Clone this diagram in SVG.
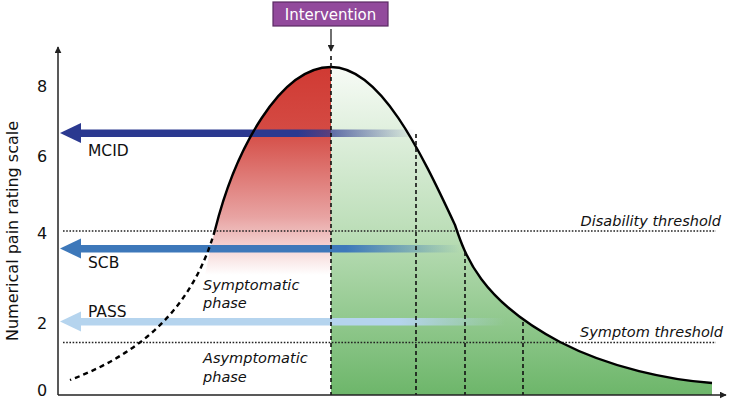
<svg xmlns="http://www.w3.org/2000/svg" width="729" height="404" viewBox="0 0 729 404">
<style>
text{font-family:"DejaVu Sans","Liberation Sans",sans-serif;fill:#111}
.num{font-size:16px;text-anchor:middle}
.lab{font-size:15.5px}
.it{font-size:14.5px;font-style:italic}
.axis{stroke:#222;stroke-width:1.5;fill:none}
.dot{stroke:#222;stroke-width:1.3;stroke-dasharray:1.6,1.6;fill:none}
.dash{stroke:#111;stroke-width:1.6;stroke-dasharray:4,3;fill:none}
.curve{stroke:#000;stroke-width:2.4;fill:none}
</style>
<defs>
<linearGradient id="red" x1="0" y1="67" x2="0" y2="275" gradientUnits="userSpaceOnUse">
<stop offset="0" stop-color="#d03a33"/>
<stop offset="0.3" stop-color="#d44a43"/>
<stop offset="0.72" stop-color="#e8a3a2"/>
<stop offset="1" stop-color="#e8a3a2" stop-opacity="0"/>
</linearGradient>
<linearGradient id="green" x1="0" y1="67" x2="0" y2="395" gradientUnits="userSpaceOnUse">
<stop offset="0" stop-color="#f7fbf6"/>
<stop offset="0.5" stop-color="#bcdeb8"/>
<stop offset="1" stop-color="#6db66a"/>
</linearGradient>
<linearGradient id="gM" x1="80" y1="0" x2="415" y2="0" gradientUnits="userSpaceOnUse">
<stop offset="0" stop-color="#2b3990"/>
<stop offset="0.65" stop-color="#2b3990"/>
<stop offset="1" stop-color="#2b3990" stop-opacity="0"/>
</linearGradient>
<linearGradient id="gS" x1="80" y1="0" x2="460" y2="0" gradientUnits="userSpaceOnUse">
<stop offset="0" stop-color="#3d78ba"/>
<stop offset="0.7" stop-color="#3d78ba"/>
<stop offset="1" stop-color="#3d78ba" stop-opacity="0"/>
</linearGradient>
<linearGradient id="gP" x1="80" y1="0" x2="505" y2="0" gradientUnits="userSpaceOnUse">
<stop offset="0" stop-color="#b5d4ee"/>
<stop offset="0.75" stop-color="#b5d4ee"/>
<stop offset="1" stop-color="#b5d4ee" stop-opacity="0"/>
</linearGradient>
<marker id="ah" viewBox="0 0 10 10" refX="9" refY="5" markerWidth="7" markerHeight="7" markerUnits="userSpaceOnUse" orient="auto">
<path d="M0,0 L10,5 L0,10 Z" fill="#222"/>
</marker>
</defs>

<g id="fills">
<path d="M331,67 C280,67 235,150 215,230 C212,242 209,255 205,275 L331,275 Z" fill="url(#red)"/>
<path d="M331,67 C380,67 420,150 455,225 C465,255 480,300 560,342 C610,368 670,380 712,383 L712,395 L331,395 Z" fill="url(#green)"/>
</g>

<g id="thresholds">
<line class="dot" x1="63" y1="231" x2="716" y2="231"/>
<line class="dot" x1="63" y1="342.5" x2="716" y2="342.5"/>
<text class="it" x="721" y="226" text-anchor="end">Disability threshold</text>
<text class="it" x="723" y="337" text-anchor="end">Symptom threshold</text>
</g>

<g id="arrows">
<g id="mcid">
<rect x="78" y="129.5" width="337" height="7.5" fill="url(#gM)"/>
<path d="M60,133 L81,123 L81,143 Z" fill="#2b3990"/>
<text class="lab" x="88" y="156">MCID</text>
</g>
<g id="scb">
<rect x="78" y="245" width="382" height="7.5" fill="url(#gS)"/>
<path d="M60,248.5 L81,238.5 L81,258.5 Z" fill="#3d78ba"/>
<text class="lab" x="88" y="268">SCB</text>
</g>
<g id="pass">
<rect x="78" y="318" width="427" height="7.5" fill="url(#gP)"/>
<path d="M60,321.5 L81,311.5 L81,331.5 Z" fill="#b5d4ee"/>
<text class="lab" x="88" y="317">PASS</text>
</g>
</g>

<g id="curve">
<path class="curve" d="M331,67 C280,67 235,150 215,230"/>
<path class="curve" d="M331,67 C380,67 420,150 455,225 C465,255 480,300 560,342 C610,368 670,380 712,383"/>
<path d="M215,230 C195,300 150,350 70,380" stroke="#000" stroke-width="2.4" stroke-dasharray="5,4" fill="none"/>
</g>

<g id="verticals">
<line class="dash" x1="331" y1="56" x2="331" y2="395"/>
<line class="dash" x1="416" y1="134" x2="416" y2="395"/>
<line class="dash" x1="465" y1="252" x2="465" y2="395"/>
<line class="dash" x1="523" y1="322" x2="523" y2="395"/>
</g>

<g id="intervention">
<rect x="273" y="2" width="115" height="24" fill="#924a9c" stroke="#5a2a63" stroke-width="1.2"/>
<text x="330.5" y="19.5" font-size="15" text-anchor="middle" style="fill:#fff">Intervention</text>
<line x1="331" y1="29" x2="331" y2="51" stroke="#222" stroke-width="1.3" marker-end="url(#ah)"/>
</g>

<g id="axes">
<line class="axis" x1="58" y1="395" x2="58" y2="47" marker-end="url(#ah)"/>
<line class="axis" x1="58" y1="395" x2="726" y2="395" marker-end="url(#ah)"/>
<text class="num" x="42" y="92">8</text>
<text class="num" x="42" y="162">6</text>
<text class="num" x="42" y="239">4</text>
<text class="num" x="42" y="329">2</text>
<text class="num" x="42" y="396">0</text>
<text x="0" y="0" font-size="16" text-anchor="middle" transform="translate(18,231) rotate(-90)">Numerical pain rating scale</text>
</g>

<g id="phases">
<text class="it" x="203" y="290">Symptomatic</text>
<text class="it" x="203" y="308">phase</text>
<text class="it" x="203" y="363">Asymptomatic</text>
<text class="it" x="203" y="382">phase</text>
</g>
</svg>
